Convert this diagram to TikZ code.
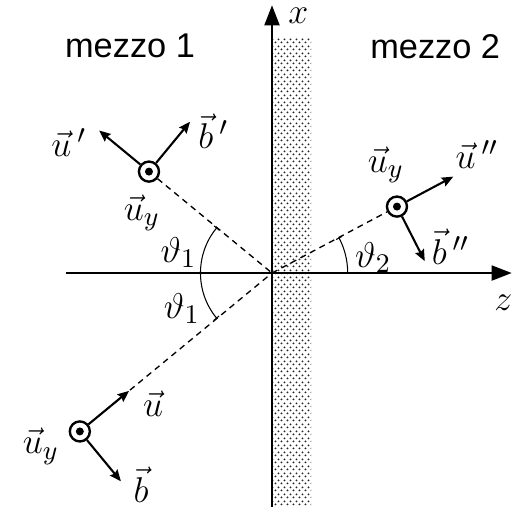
\documentclass[tikz,border=0pt]{standalone}
\usepackage{amsmath,amssymb}
\usepackage{fontspec}
\newfontfamily\mezzofont{Liberation Sans}
\usetikzlibrary{arrows.meta,calc,patterns}

% fine staggered dots for the interface layer
\pgfdeclarepatternformonly{fine dots}{\pgfpointorigin}{\pgfpoint{2pt}{2.2pt}}{\pgfpoint{2pt}{2.2pt}}{
  \pgfpathcircle{\pgfpoint{0.5pt}{0.55pt}}{0.35pt}
  \pgfpathcircle{\pgfpoint{1.5pt}{1.65pt}}{0.35pt}
  \pgfusepath{fill}
}

\tikzset{
  axis/.style={line width=0.7pt, -{Triangle[length=6.7pt,width=5pt]}},
  vec/.style={line width=0.7pt, -{Stealth[length=3.8pt,width=3.2pt,inset=0.5pt]}},
  ray/.style={line width=0.45pt, dash pattern=on 2pt off 1.6pt},
  angarc/.style={line width=0.35pt, {Bar[width=2.2pt]}-{Bar[width=2.2pt]}},
  uy/.style={circle, draw, line width=0.8pt, minimum size=0.236cm, inner sep=0pt,
    path picture={\fill (path picture bounding box.center) circle (0.047cm);}},
  medium/.style={font=\fontsize{11.5}{14}\mezzofont},
  tight/.style={inner sep=0pt}
}

\begin{document}
\begin{tikzpicture}[font=\fontsize{13}{15}\selectfont]
  \useasboundingbox (-3.2,-2.812) rectangle (2.847,3.212);

  % interface layer
  \fill[pattern=fine dots, pattern color=black!85] (0,-2.75) rectangle (0.46,2.76);

  % axes
  \coordinate (O) at (0,0);
  \coordinate (zL) at (-2.42,0);
  \coordinate (zR) at (2.82,0);
  \coordinate (xB) at (0,-2.75);
  \coordinate (xT) at (0,3.15);
  \draw[axis] (zL) -- (zR);
  \draw[axis] (xB) -- (xT);
  \node (zlab) at (2.72,-0.35) {$z$};
  \node[tight] (xlab) at (0.31,3.03) {$x$};

  % media
  \node[medium] (mezzoA) at (-1.67,2.67) {mezzo 1};
  \node[medium] (mezzoB) at (1.92,2.66) {mezzo 2};

  % incident, reflected and transmitted points
  \node[uy] (pin) at (219.5:2.93) {};
  \node[uy] (pout) at (140.5:1.876) {};
  \node[uy] (ptr) at (28:1.665) {};

  % rays
  \draw[ray] (pin) -- (O);
  \draw[ray] (pout) -- (O);
  \draw[ray] (O) -- (ptr);

  % angles
  \draw[angarc] (140.5:0.84) arc[start angle=140.5, end angle=219.5, radius=0.84];
  \draw[angarc] (0:0.89) arc[start angle=0, end angle=28, radius=0.89];
  \node (thA) at (-1.1,0.24) {$\vartheta_1$};
  \node (thB) at (-1.06,-0.42) {$\vartheta_1$};
  \node (thC) at (1.19,0.18) {$\vartheta_2$};

  % incident vectors
  \coordinate (uin) at ($(pin)+(39.5:0.75)$);
  \coordinate (bin) at ($(pin)+(-50.5:0.76)$);
  \draw[vec] (pin) -- (uin);
  \draw[vec] (pin) -- (bin);
  \node (uinlab) at (-1.4,-1.54) {$\vec{u}$};
  \node[tight] (binlab) at (-1.54,-2.49) {$\vec{b}$};
  \node (uyin) at (-2.72,-2.04) {$\vec{u}_y$};

  % reflected vectors
  \coordinate (uout) at ($(pout)+(140.5:0.76)$);
  \coordinate (bout) at ($(pout)+(50.5:0.76)$);
  \draw[vec] (pout) -- (uout);
  \draw[vec] (pout) -- (bout);
  \node (uoutlab) at (-2.39,1.54) {$\vec{u}\,'$};
  \node[tight] (boutlab) at (-0.69,1.67) {$\vec{b}\,'$};
  \node (uyout) at (-1.53,0.71) {$\vec{u}_y$};

  % transmitted vectors
  \coordinate (utr) at ($(ptr)+(28:0.75)$);
  \coordinate (btr) at ($(ptr)+(-63:0.72)$);
  \draw[vec] (ptr) -- (utr);
  \draw[vec] (ptr) -- (btr);
  \node (utrlab) at (2.41,1.39) {$\vec{u}\,''$};
  \node[tight] (btrlab) at (2.1,0.31) {$\vec{b}\,''$};
  \node (uytr) at (1.34,1.27) {$\vec{u}_y$};
\end{tikzpicture}
\end{document}
